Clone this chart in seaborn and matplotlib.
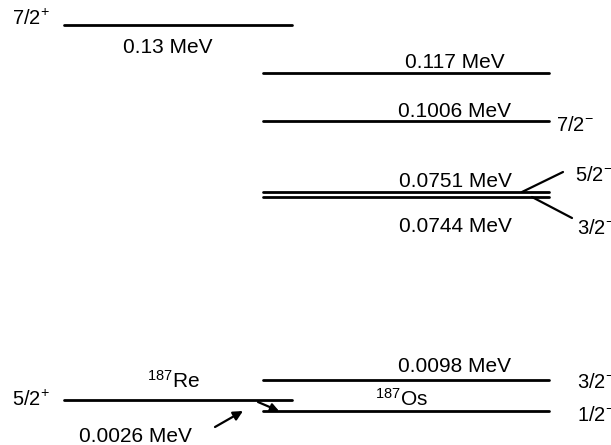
import matplotlib
matplotlib.use("Agg")
import matplotlib.pyplot as plt
import seaborn as sns
import pandas as pd

# ---- data (schematic level diagram; positions) ----
re_nucleus = r"$^{187}$Re"
os_nucleus = r"$^{187}$Os"

re_energy_labels = ["0.13 MeV", "0.0026 MeV"]
re_spins = [r"7/2$^{+}$", r"5/2$^{+}$"]
re_level_pos = [25, 400]          # drawing height of each 187Re level

os_energy_labels = ["0.117 MeV", "0.1006 MeV", "0.0751 MeV", "0.0744 MeV", "0.0098 MeV", ""]
os_spins = ["", r"7/2$^{-}$", r"5/2$^{-}$", r"3/2$^{-}$", r"3/2$^{-}$", r"1/2$^{-}$"]
os_level_pos = [72.7, 121, 192.3, 196.7, 380, 411]

re_x_span = (64, 292)
os_x_span = (263, 549)

# ---- style ----
sns.set_theme(style="white")
plt.rcParams["font.family"] = ["Liberation Sans", "DejaVu Sans"]
plt.rcParams["mathtext.fontset"] = "custom"
plt.rcParams["mathtext.rm"] = "Liberation Sans"
plt.rcParams["mathtext.default"] = "regular"
plt.rcParams["text.color"] = "black"

fig = plt.figure(figsize=(6.11, 4.45), dpi=100)
ax = fig.add_axes([0, 0, 1, 1])

rows = []
for i, y in enumerate(re_level_pos):
    for x in re_x_span:
        rows.append({"x": x, "y": y, "level": f"re{i}"})
for i, y in enumerate(os_level_pos):
    for x in os_x_span:
        rows.append({"x": x, "y": y, "level": f"os{i}"})
df = pd.DataFrame(rows)

sns.lineplot(data=df, x="x", y="y", units="level", estimator=None,
             color="black", linewidth=2.0, ax=ax, legend=False, sort=False)

ax.set_xlim(0, 611)
ax.set_ylim(445, 0)
ax.axis("off")

fs = 15
# Re texts
ax.text(168, 53, re_energy_labels[0], fontsize=fs, ha="center", va="baseline")
ax.text(12, 25, re_spins[0], fontsize=fs - 0.5, ha="left", va="baseline")
ax.text(12, 406, re_spins[1], fontsize=fs - 0.5, ha="left", va="baseline")
ax.text(173, 388, re_nucleus, fontsize=fs, ha="center", va="baseline")
ax.text(135, 442, re_energy_labels[1], fontsize=fs, ha="center", va="baseline")

# Os energy texts
os_label_baselines = [68, 117, 187, 232, 372]
for lab, yb in zip(os_energy_labels[:5], os_label_baselines):
    ax.text(455, yb, lab, fontsize=fs, ha="center", va="baseline")
ax.text(401, 406, os_nucleus, fontsize=fs, ha="center", va="baseline")

# Os spin texts (right edge, partly cut by the figure border as in the original)
os_spin_pos = [None, (556, 131), (575, 181), (577, 234), (577, 388), (577, 421)]
for lab, p in zip(os_spins, os_spin_pos):
    if p is None or not lab:
        continue
    ax.text(p[0], p[1], lab, fontsize=fs - 0.5, ha="left", va="baseline")

# leader lines for close doublet
ax.plot([522, 563], [192, 172], color="black", linewidth=1.6)
ax.plot([532, 572], [197, 218], color="black", linewidth=1.6)

# arrows
ax.annotate("", xy=(243, 411), xytext=(215, 427),
            arrowprops=dict(arrowstyle="-|>", color="black", lw=1.6,
                            mutation_scale=14, shrinkA=0, shrinkB=0))
ax.annotate("", xy=(279, 411), xytext=(258, 402),
            arrowprops=dict(arrowstyle="-|>", color="black", lw=1.6,
                            mutation_scale=12, shrinkA=0, shrinkB=0))

fig.savefig("out.png", dpi=100)
